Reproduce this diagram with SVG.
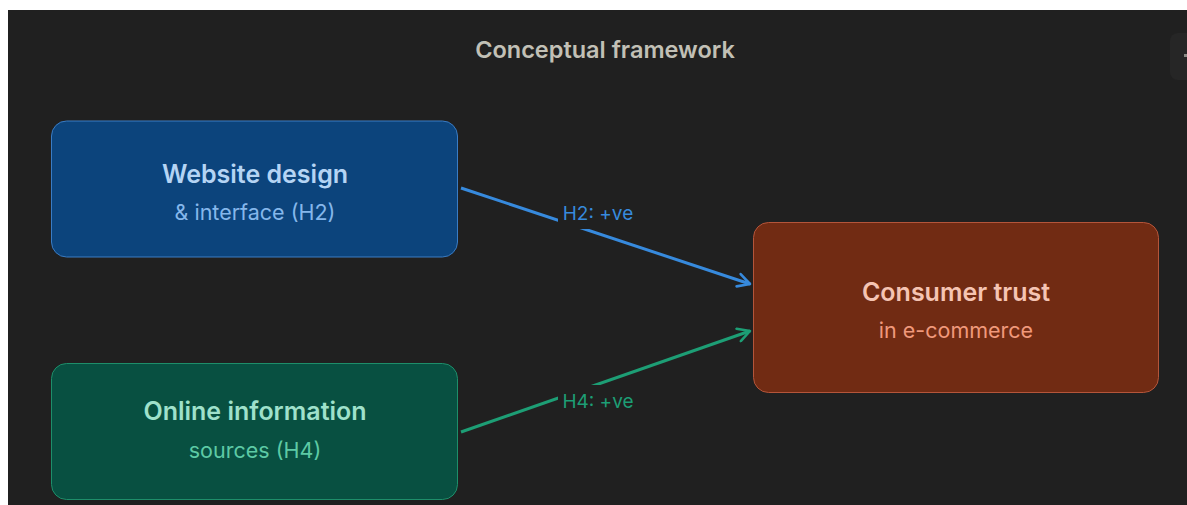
<svg xmlns="http://www.w3.org/2000/svg" width="1187" height="505" viewBox="0 0 1187 505">
  <style>
    .t { font-family: Inter, "Liberation Sans", sans-serif; text-anchor: middle; }
    .h { font-weight: 600; font-size: 25px; }
    .s { font-weight: 400; font-size: 21.5px; }
    .lbl { font-family: Inter, "Liberation Sans", sans-serif; font-size: 19px; text-anchor: middle; }
  </style>
  <defs>
    <marker id="ab" viewBox="0 0 16 16" refX="14" refY="8" markerWidth="16" markerHeight="16" markerUnits="userSpaceOnUse" orient="auto">
      <path d="M2,1.5 L14,8 L2,14.5" fill="none" stroke="#378ADD" stroke-width="2.6" stroke-linecap="round" stroke-linejoin="round"/>
    </marker>
    <marker id="ag" viewBox="0 0 16 16" refX="14" refY="8" markerWidth="16" markerHeight="16" markerUnits="userSpaceOnUse" orient="auto">
      <path d="M2,1.5 L14,8 L2,14.5" fill="none" stroke="#1D9E75" stroke-width="2.6" stroke-linecap="round" stroke-linejoin="round"/>
    </marker>
  </defs>
  <rect x="0" y="0" width="1187" height="505" fill="#ffffff"/>
  <rect x="8" y="10" width="1179" height="495" fill="#202020"/>
  <rect x="1170" y="33" width="30" height="47" rx="8" fill="#262626"/>
  <rect x="1184" y="54" width="3" height="3" fill="#8a8a86"/>

  <text class="t" x="605" y="58" font-size="23.5" font-weight="600" fill="#C2C0B6">Conceptual framework</text>

  <g id="connectors">
    <line x1="461" y1="188" x2="750" y2="284" stroke="#378ADD" stroke-width="3" marker-end="url(#ab)"/>
    <line x1="461" y1="432" x2="750" y2="331" stroke="#1D9E75" stroke-width="3" marker-end="url(#ag)"/>
    <rect x="558" y="197" width="80" height="32" fill="#202020"/>
    <text class="lbl" x="598" y="220" fill="#378ADD">H2: +ve</text>
    <rect x="558" y="385" width="80" height="32" fill="#202020"/>
    <text class="lbl" x="598" y="408" fill="#1D9E75">H4: +ve</text>
  </g>

  <g id="website">
    <rect x="51.5" y="121" width="406" height="136" rx="15" fill="#0C447C" stroke="#3A7CC4" stroke-width="1"/>
    <text class="t h" x="255" y="183" fill="#B5D4F4">Website design</text>
    <text class="t s" x="255" y="220" fill="#85B7EB">&amp; interface (H2)</text>
  </g>

  <g id="online">
    <rect x="51.5" y="363.5" width="406" height="136" rx="15" fill="#085041" stroke="#1E8E6A" stroke-width="1"/>
    <text class="t h" x="255" y="420" fill="#9FE1CB">Online information</text>
    <text class="t s" x="255" y="458" fill="#5DCAA5">sources (H4)</text>
  </g>

  <g id="trust">
    <rect x="753.5" y="222.5" width="405" height="170" rx="15" fill="#712B13" stroke="#B4553A" stroke-width="1"/>
    <text class="t h" x="956" y="301" fill="#F5C4B3">Consumer trust</text>
    <text class="t s" x="956" y="338" fill="#F0997B">in e-commerce</text>
  </g>
</svg>
